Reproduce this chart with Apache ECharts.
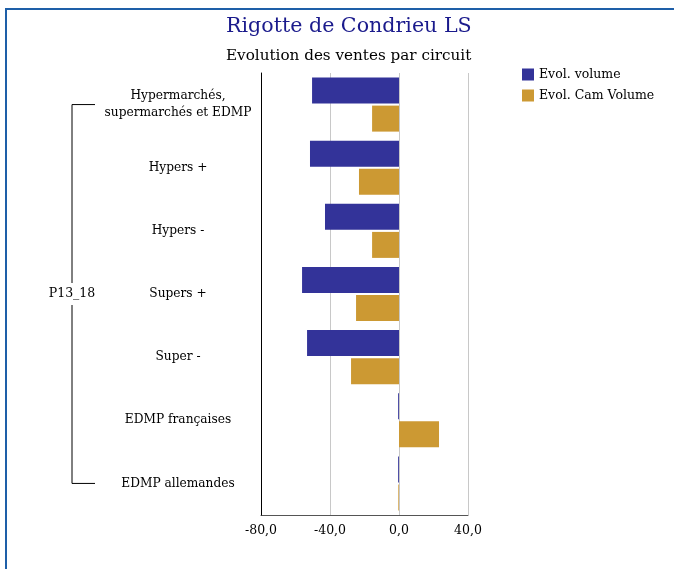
<!DOCTYPE html>
<html>
<head>
<meta charset="utf-8">
<script src="https://cdn.jsdelivr.net/npm/echarts@6/dist/echarts.min.js"></script>
<style>html,body{margin:0;padding:0;background:#fff}#c{width:674px;height:569px}</style>
</head>
<body>
<div id="c"></div>
<script>
var categories = ["Hypermarchés,\nsupermarchés et EDMP", "Hypers +", "Hypers -", "Supers +", "Super -", "EDMP françaises", "EDMP allemandes"];
var seriesNames = ["Evol. volume", "Evol. Cam Volume"];
var evolVolume = [-50.4, -51.6, -42.9, -56.2, -53.3, -0.5, -0.5];
var evolCamVolume = [-15.6, -23.2, -15.6, -24.9, -27.8, 23.2, -0.4];
var xTicks = [-80, -40, 0, 40];
var groupLabel = "P13_18";

var FONT = "DejaVu Serif";
var chart = echarts.init(document.getElementById('c'), null, {renderer: 'canvas'});
var option = {
  animation: false,
  backgroundColor: '#fff',
  textStyle: {fontFamily: FONT},
  title: [
    {text: "Rigotte de Condrieu LS", left: 221, top: 11, textStyle: {fontFamily: FONT, fontSize: 20.6, fontWeight: 'normal', color: '#1a1a8c'}},
    {text: "Evolution des ventes par circuit", left: 221, top: 44, textStyle: {fontFamily: FONT, fontSize: 15.2, fontWeight: 'normal', color: '#000'}}
  ],
  legend: {
    orient: 'vertical', left: 517, top: 63, itemWidth: 12, itemHeight: 12, itemGap: 8,
    icon: 'rect',
    textStyle: {fontFamily: FONT, fontSize: 12.5, color: '#000'},
    data: seriesNames
  },
  grid: {left: 261, right: 206, top: 73, bottom: 54, containLabel: false},
  xAxis: {
    type: 'value', min: xTicks[0], max: xTicks[xTicks.length - 1], interval: 40, z: 0,
    axisLine: {show: true, lineStyle: {color: '#555', width: 1}},
    axisTick: {show: false},
    splitLine: {show: true, showMinLine: false, lineStyle: {color: '#c8c8c8', width: 1}},
    axisLabel: {fontFamily: FONT, fontSize: 12.5, color: '#000', margin: 9,
      formatter: function (v) { return v.toFixed(1).replace('.', ','); }}
  },
  yAxis: {
    type: 'category', inverse: true, data: categories, z: 5,
    axisLine: {show: true, onZero: false, lineStyle: {color: '#000', width: 1}},
    axisTick: {show: false},
    splitLine: {show: false},
    axisLabel: {fontFamily: FONT, fontSize: 12.2, color: '#000', align: 'center', margin: 83, lineHeight: 17}
  },
  series: [
    {name: seriesNames[0], type: 'bar', data: evolVolume, barWidth: 26, barGap: '8%', itemStyle: {color: '#333399'}},
    {name: seriesNames[1], type: 'bar', data: evolCamVolume, barWidth: 26, itemStyle: {color: '#cc9933'}}
  ]
};
chart.setOption(option);

var yTop = chart.convertToPixel({yAxisIndex: 0}, categories[0]);
var yBot = chart.convertToPixel({yAxisIndex: 0}, categories[categories.length - 1]);
var yMid = (yTop + yBot) / 2;
var bx = 72, bx2 = 95;
chart.setOption({
  graphic: [
    {type: 'line', shape: {x1: 6, y1: 9, x2: 674, y2: 9}, style: {stroke: '#1e5fa8', lineWidth: 2}},
    {type: 'line', shape: {x1: 6, y1: 8, x2: 6, y2: 569}, style: {stroke: '#1e5fa8', lineWidth: 2}},
    {type: 'polyline', shape: {points: [[bx2, yTop], [bx, yTop], [bx, yMid - 11]]}, style: {stroke: '#000', lineWidth: 1, fill: null}},
    {type: 'polyline', shape: {points: [[bx, yMid + 11], [bx, yBot], [bx2, yBot]]}, style: {stroke: '#000', lineWidth: 1, fill: null}},
    {type: 'text', x: bx, y: yMid, style: {text: groupLabel, font: '12.5px "DejaVu Serif"', fill: '#000', align: 'center', verticalAlign: 'middle'}}
  ]
});
</script>
</body>
</html>
